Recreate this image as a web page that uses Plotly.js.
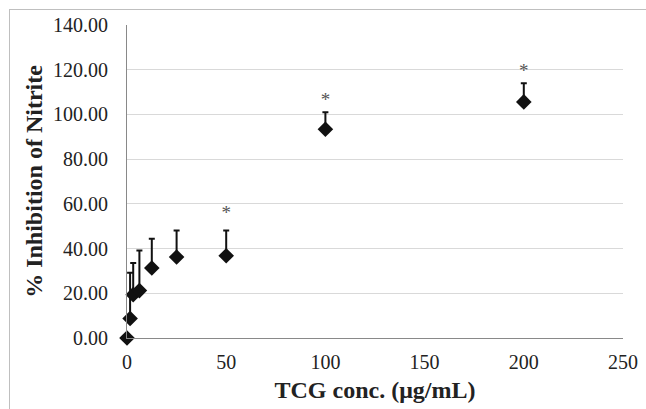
<!DOCTYPE html>
<html>
<head>
<meta charset="utf-8">
<script src="https://cdn.plot.ly/plotly-3.0.1.min.js"></script>
<style>
html,body{margin:0;padding:0;overflow:hidden;background:#fff;}
#wrap{position:relative;width:646px;height:409px;}
#chart{width:646px;height:409px;}
#frame{position:absolute;left:9px;top:9px;width:800px;height:600px;border:1px solid #bfbfbf;pointer-events:none;}
</style>
</head>
<body>
<div id="wrap"><div id="chart"></div><div id="frame"></div></div>
<script>
// TCG concentration (µg/mL)
const conc = [0, 1.5625, 3.125, 6.25, 12.5, 25, 50, 100, 200];
// % inhibition of nitrite
const inhibition = [0, 8.7, 19.4, 21.2, 31.3, 36.2, 36.8, 93.4, 105.6];
// upper error (SD)
const errUp = [0, 20.5, 14.1, 17.9, 13.1, 11.9, 11.3, 7.6, 8.4];
// significance markers
const starX = [50, 100, 200];
const starY = [55.5, 106, 119];
const starText = ['*', '*', '*'];
const xTicks = [0, 50, 100, 150, 200, 250];
const yTicks = [0, 20, 40, 60, 80, 100, 120, 140];

const serif = 'Liberation Serif';

const traces = [
  {
    x: conc, y: inhibition, type: 'scatter', mode: 'markers',
    marker: {symbol: 'diamond', size: 12, color: '#111'},
    error_y: {type: 'data', symmetric: false, array: errUp, arrayminus: conc.map(() => 0),
              color: '#111', thickness: 2, width: 3},
    cliponaxis: false, hoverinfo: 'none'
  },
  {
    x: starX, y: starY, type: 'scatter', mode: 'text', text: starText,
    textposition: 'middle center',
    textfont: {family: serif, size: 19, color: '#555'},
    cliponaxis: false, hoverinfo: 'none'
  }
];

const layout = {
  width: 646, height: 409,
  margin: {l: 127, r: 23, t: 25, b: 71},
  paper_bgcolor: '#fff', plot_bgcolor: '#fff',
  showlegend: false,
  font: {family: serif, color: '#222'},
  xaxis: {
    range: [0, 250], tickvals: xTicks, ticktext: xTicks.map(String),
    showgrid: false, zeroline: false,
    showline: true, linecolor: '#898989', linewidth: 1,
    ticks: 'outside', ticklen: 6, tickcolor: 'rgba(0,0,0,0)',
    tickfont: {family: serif, size: 20, color: '#222'},
    title: {text: '<b>TCG conc. (μg/mL)</b>', font: {family: serif, size: 24, color: '#222'}, standoff: 9},
    automargin: false
  },
  yaxis: {
    range: [0, 140], tickvals: yTicks, ticktext: yTicks.map(v => v.toFixed(2)),
    showgrid: true, gridcolor: '#d9d9d9', gridwidth: 1,
    zeroline: false,
    showline: true, linecolor: '#898989', linewidth: 1,
    ticks: 'outside', ticklen: 14, tickcolor: 'rgba(0,0,0,0)',
    tickfont: {family: serif, size: 20, color: '#222'},
    title: {text: '<b>% Inhibition of Nitrite</b>', font: {family: serif, size: 24, color: '#222'}, standoff: 3},
    automargin: false
  }
};

function draw() {
  Plotly.newPlot('chart', traces, layout, {displayModeBar: false});
}
if (document.fonts && document.fonts.load) {
  Promise.all([
    document.fonts.load('20px "Liberation Serif"'),
    document.fonts.load('bold 24px "Liberation Serif"')
  ]).then(draw, draw);
} else {
  draw();
}
</script>
</body>
</html>
